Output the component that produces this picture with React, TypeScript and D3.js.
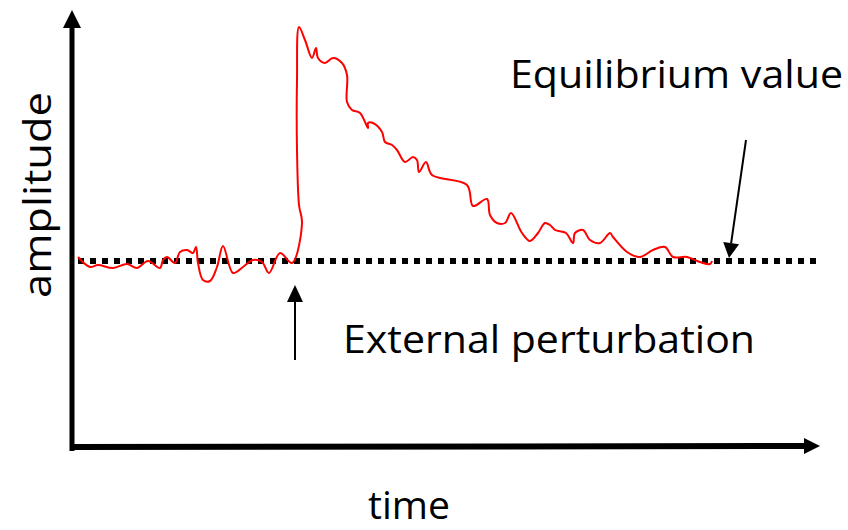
import React from "react";
import * as d3 from "d3";

// time (arbitrary units) of each sampled point of the response curve
const timeValues = [
  3, 15, 23, 38, 52, 62, 73, 85, 88, 92, 100, 105, 112, 118, 121, 123, 128, 135, 142, 148,
  158, 168, 178, 187, 194, 205, 217, 227, 224, 222, 222, 224, 230, 237, 241, 243, 250, 258,
  267, 272, 272, 277, 285, 293, 293, 298, 307, 310, 317, 322, 330, 338, 342, 344, 351, 357,
  392, 398, 412, 415, 422, 430, 436, 447, 455, 463, 470, 475, 480, 491, 498, 500, 508, 515,
  525, 535, 538, 552, 565, 578, 590, 598, 612, 625, 635, 637,
];
// amplitude (arbitrary units) of each sampled point
const amplitudeValues = [
  190, 180, 182, 179, 183, 179, 186, 179, 187, 190, 184, 195, 197, 194, 200, 184, 167, 166, 180, 201,
  174, 180, 187, 185, 174, 194, 184, 224, 242, 297, 367, 420, 407, 389, 399, 389, 384, 389,
  384, 372, 345, 337, 334, 319, 324, 324, 315, 305, 302, 297, 285, 290, 287, 275, 285, 272,
  262, 241, 248, 232, 224, 224, 234, 214, 206, 214, 224, 222, 217, 214, 204, 214, 217, 207,
  204, 214, 210, 195, 190, 197, 200, 190, 190, 185, 183, 186,
];
const equilibriumLevel = 186;
const equilibriumSpan = [3, 742];
const perturbationTime = 220;

const xLabel = "time";
const yLabel = "amplitude";
const equilibriumLabel = "Equilibrium value";
const perturbationLabel = "External perturbation";

export default function App() {
  const x = d3.scaleLinear().domain([0, 730]).range([75, 805]);
  const y = d3.scaleLinear().domain([0, 432]).range([447, 15]);

  const pts: [number, number][] = timeValues.map((t, i) => [t, amplitudeValues[i]]);
  const line = d3
    .line<[number, number]>()
    .x((d) => x(d[0]))
    .y((d) => y(d[1]))
    .curve(d3.curveCatmullRom.alpha(0.5));

  const axX = x(0) - 3;
  const axY = y(0);
  const font = "'Open Sans', Lato, sans-serif";
  const fs = 38;
  const eqY = y(equilibriumLevel);
  const pX = x(perturbationTime) + 0;

  // equilibrium arrow
  const eqTipX = 729,
    eqTipY = eqY - 3;
  const eqStartX = 746,
    eqStartY = 140;
  const ang = Math.atan2(eqTipY - eqStartY, eqTipX - eqStartX);
  const hl = 15,
    hw = 8;
  const bx = eqTipX - hl * Math.cos(ang),
    by = eqTipY - hl * Math.sin(ang);
  const nx = -Math.sin(ang),
    ny = Math.cos(ang);

  const textStyle = { fontVariantLigatures: "none" as const };

  return (
    <svg
      width={848}
      height={530}
      style={{ position: "absolute", left: 0, top: 0, background: "#fff" }}
    >
      {/* y axis */}
      <line x1={axX} y1={axY + 4} x2={axX} y2={26} stroke="#000" strokeWidth={5} />
      <path d={`M${axX},10 L${axX - 9},28 L${axX + 9},28 Z`} fill="#000" />
      {/* x axis */}
      <line x1={axX - 2} y1={axY} x2={806} y2={axY - 1} stroke="#000" strokeWidth={6} />
      <path d={`M820,${axY - 1} L804,${axY - 9} L804,${axY + 7} Z`} fill="#000" />

      {/* equilibrium dotted line */}
      <line
        x1={x(equilibriumSpan[0])}
        x2={x(equilibriumSpan[1])}
        y1={eqY}
        y2={eqY}
        stroke="#000"
        strokeWidth={6}
        strokeDasharray="6 6"
      />

      {/* response curve */}
      <path d={line(pts) || ""} fill="none" stroke="#ff0000" strokeWidth={2} strokeLinejoin="round" />

      {/* perturbation arrow */}
      <line x1={pX} y1={360} x2={pX} y2={298} stroke="#000" strokeWidth={2} />
      <path d={`M${pX},285 L${pX - 8},302 L${pX + 8},302 Z`} fill="#000" />

      {/* equilibrium arrow */}
      <line x1={eqStartX} y1={eqStartY} x2={bx} y2={by} stroke="#000" strokeWidth={2} />
      <path
        d={`M${eqTipX},${eqTipY} L${bx + nx * hw},${by + ny * hw} L${bx - nx * hw},${by - ny * hw} Z`}
        fill="#000"
      />

      {/* labels */}
      <text x={510} y={88} fontFamily={font} fontSize={fs} textLength={333} lengthAdjust="spacingAndGlyphs" fill="#000" style={textStyle}>
        {equilibriumLabel}
      </text>
      <text x={343} y={353} fontFamily={font} fontSize={fs} textLength={412} lengthAdjust="spacingAndGlyphs" fill="#000" style={textStyle}>
        {perturbationLabel}
      </text>
      <text x={368} y={519} fontFamily={font} fontSize={fs} textLength={82} lengthAdjust="spacingAndGlyphs" fill="#000" style={textStyle}>
        {xLabel}
      </text>
      <text
        transform={`translate(51,298) rotate(-90)`}
        fontFamily={font}
        fontSize={fs}
        textLength={206}
        lengthAdjust="spacingAndGlyphs"
        fill="#000"
        style={textStyle}
      >
        {yLabel}
      </text>
    </svg>
  );
}
